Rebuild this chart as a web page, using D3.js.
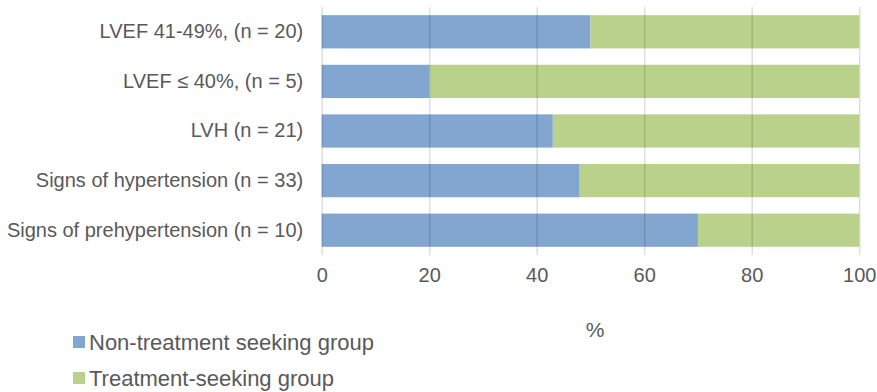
<!DOCTYPE html>
<html><head><meta charset="utf-8">
<script src="https://cdn.jsdelivr.net/npm/d3@7"></script>
<style>html,body{margin:0;padding:0;background:#fff;}svg{display:block;}</style>
</head><body>
<svg id="c" width="877" height="392"></svg>
<script>
const categories = ["LVEF 41-49%, (n = 20)", "LVEF \u2264 40%, (n = 5)", "LVH (n = 21)", "Signs of hypertension (n = 33)", "Signs of prehypertension (n = 10)"];
const nonTreatment = [50, 20, 43, 48, 70];
const treatment = [50, 80, 57, 52, 30];
const xTicks = [0, 20, 40, 60, 80, 100];
const seriesNames = ["Non-treatment seeking group", "Treatment-seeking group"];
const colors = ["#82a6d0", "#b9d18b"];

(function () {
const svg = d3.select("#c");
const font = "'Liberation Sans', Arial, Helvetica, sans-serif";
const textColor = "#595959";
const mLeft = 321.7, mRight = 859.2, mTop = 7, mBottom = 255;

const x = d3.scaleLinear().domain([0, 100]).range([mLeft, mRight]);
const y = d3.scaleBand().domain(categories).range([mTop, mBottom]).paddingInner(0.33).paddingOuter(0.165);

const stack = categories.map((c, i) => ({cat: c, a: nonTreatment[i], b: treatment[i]}));

svg.append("g").selectAll("rect").data(stack).join("rect")
  .attr("x", x(0)).attr("y", d => y(d.cat))
  .attr("width", d => x(d.a) - x(0)).attr("height", y.bandwidth())
  .attr("fill", colors[0]);
svg.append("g").selectAll("rect").data(stack).join("rect")
  .attr("x", d => x(d.a)).attr("y", d => y(d.cat))
  .attr("width", d => x(d.a + d.b) - x(d.a)).attr("height", y.bandwidth())
  .attr("fill", colors[1]);

const xAxis = d3.axisBottom(x).tickValues(xTicks).tickSize(-(mBottom - mTop)).tickPadding(13).tickSizeOuter(0);
const gx = svg.append("g").attr("transform", `translate(0,${mBottom})`).call(xAxis);
gx.select(".domain").remove();
gx.selectAll(".tick line").attr("stroke", "rgba(0,0,0,0.13)").attr("stroke-width", 1.5);
gx.selectAll(".tick text").attr("font-family", font).attr("font-size", 20).attr("fill", textColor);

const yAxis = d3.axisLeft(y).tickSize(0).tickPadding(18.5);
const gy = svg.append("g").attr("transform", `translate(${mLeft},0)`).call(yAxis);
gy.select(".domain").remove();
gy.selectAll(".tick text").attr("font-family", font).attr("font-size", 20).attr("fill", textColor);

svg.append("text").attr("x", 595).attr("y", 337).attr("text-anchor", "middle")
  .attr("font-family", font).attr("font-size", 21).attr("fill", textColor).text("%");

const leg = svg.append("g");
seriesNames.forEach((n, i) => {
  const ly = 342 + i * 36;
  leg.append("rect").attr("x", 73).attr("y", ly - 6).attr("width", 12).attr("height", 12).attr("fill", colors[i]);
  leg.append("text").attr("x", 89).attr("y", ly).attr("dy", "0.36em")
    .attr("font-family", font).attr("font-size", 22).attr("fill", textColor).text(n);
});
})();
</script>
</body></html>
